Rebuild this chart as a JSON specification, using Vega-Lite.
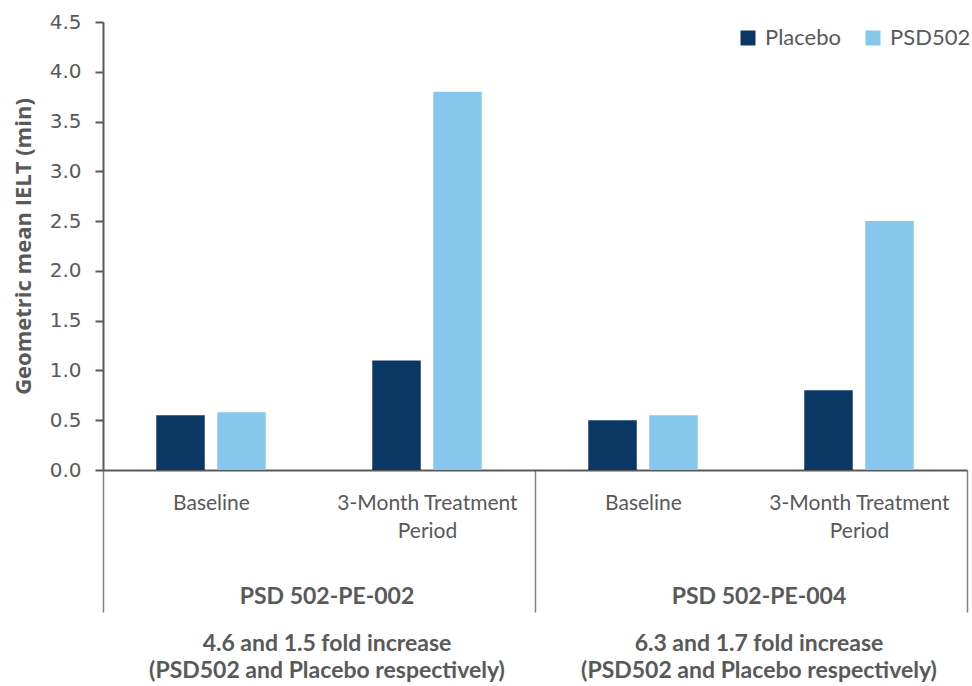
{
  "$schema": "https://vega.github.io/schema/vega-lite/v6.json",
  "width": 864,
  "height": 448,
  "autosize": {"type": "none"},
  "padding": {"left": 103, "top": 22, "right": 5, "bottom": 216},
  "background": "white",
  "config": {"view": {"stroke": null}, "font": "Lato"},
  "data": {
    "values": [
      {"study": "PSD 502-PE-002", "group": "PE-002 Baseline", "period": "Baseline", "series": "Placebo", "value": 0.55},
      {"study": "PSD 502-PE-002", "group": "PE-002 Baseline", "period": "Baseline", "series": "PSD502", "value": 0.58},
      {"study": "PSD 502-PE-002", "group": "PE-002 3-Month", "period": "3-Month Treatment Period", "series": "Placebo", "value": 1.1},
      {"study": "PSD 502-PE-002", "group": "PE-002 3-Month", "period": "3-Month Treatment Period", "series": "PSD502", "value": 3.8},
      {"study": "PSD 502-PE-004", "group": "PE-004 Baseline", "period": "Baseline", "series": "Placebo", "value": 0.5},
      {"study": "PSD 502-PE-004", "group": "PE-004 Baseline", "period": "Baseline", "series": "PSD502", "value": 0.55},
      {"study": "PSD 502-PE-004", "group": "PE-004 3-Month", "period": "3-Month Treatment Period", "series": "Placebo", "value": 0.8},
      {"study": "PSD 502-PE-004", "group": "PE-004 3-Month", "period": "3-Month Treatment Period", "series": "PSD502", "value": 2.5}
    ]
  },
  "layer": [
    {
      "mark": {"type": "bar"},
      "encoding": {
        "x": {
          "field": "group",
          "type": "nominal",
          "sort": ["PE-002 Baseline", "PE-002 3-Month", "PE-004 Baseline", "PE-004 3-Month"],
          "scale": {"paddingInner": 0, "paddingOuter": 0},
          "axis": {
            "orient": "bottom",
            "title": null,
            "tickBand": "extent",
            "tickSize": 142,
            "tickColor": "#7F7F7F",
            "tickWidth": 1.5,
            "tickOpacity": {"condition": {"test": "!isValid(datum.value) || indexof(datum.value, '3-Month') >= 0", "value": 1}, "value": 0},
            "domainColor": "#595959",
            "domainWidth": 2,
            "labelExpr": "!isValid(datum.value) || datum.label == '' ? '' : (indexof(datum.label, 'Baseline') >= 0 ? 'Baseline' : ['3-Month Treatment', 'Period'])",
            "labelAngle": 0,
            "labelFont": "Lato",
            "labelFontSize": 21,
            "labelColor": "#595959",
            "labelPadding": -120,
            "labelLineHeight": 28,
            "labelBaseline": "top",
            "labelLimit": 0
          }
        },
        "xOffset": {
          "field": "series",
          "type": "nominal",
          "sort": ["Placebo", "PSD502"],
          "scale": {"paddingInner": 0.205, "paddingOuter": 0.873}
        },
        "y": {
          "field": "value",
          "type": "quantitative",
          "scale": {"domain": [0, 4.5], "nice": false},
          "axis": {
            "title": "Geometric mean IELT (min)",
            "values": [0, 0.5, 1, 1.5, 2, 2.5, 3, 3.5, 4, 4.5],
            "format": ".1f",
            "grid": false,
            "domainColor": "#595959",
            "domainWidth": 2,
            "tickColor": "#595959",
            "tickWidth": 2,
            "tickSize": 8,
            "labelFont": "DejaVu Sans",
            "labelFontSize": 20,
            "labelColor": "#595959",
            "labelPadding": 14,
            "titleFont": "Open Sans",
            "titleFontSize": 22,
            "titleFontWeight": "bold",
            "titleColor": "#595959",
            "titlePadding": 14
          }
        },
        "color": {
          "field": "series",
          "type": "nominal",
          "scale": {"domain": ["Placebo", "PSD502"], "range": ["#0A3764", "#88C7EC"]},
          "legend": {
            "orient": "none",
            "legendX": 634,
            "legendY": 5,
            "direction": "horizontal",
            "title": null,
            "symbolType": "square",
            "symbolSize": 225,
            "symbolStrokeWidth": 0,
            "symbolOpacity": 1,
            "labelFont": "Lato",
            "labelFontSize": 22,
            "labelColor": "#595959",
            "labelOffset": 6,
            "columnPadding": 21,
            "padding": 0
          }
        }
      }
    },
    {
      "mark": {"type": "rule", "opacity": 0},
      "encoding": {
        "x": {
          "field": "study",
          "type": "nominal",
          "scale": {"type": "band", "paddingInner": 0, "paddingOuter": 0},
          "axis": {
            "orient": "bottom",
            "title": null,
            "ticks": false,
            "domain": false,
            "labelAngle": 0,
            "labelFont": "Lato",
            "labelFontWeight": "bold",
            "labelFontSize": 23,
            "labelColor": "#595959",
            "labelPadding": 115,
            "labelBaseline": "top",
            "labelLimit": 0,
            "labelOffset": 8
          }
        }
      }
    },
    {
      "mark": {"type": "rule", "opacity": 0},
      "encoding": {
        "x": {
          "field": "study",
          "type": "nominal",
          "scale": {"type": "band", "paddingInner": 0, "paddingOuter": 0},
          "axis": {
            "orient": "bottom",
            "title": null,
            "ticks": false,
            "domain": false,
            "labelAngle": 0,
            "labelFont": "Lato",
            "labelFontWeight": "bold",
            "labelFontSize": 23,
            "labelColor": "#595959",
            "labelPadding": 162,
            "labelLineHeight": 27,
            "labelBaseline": "top",
            "labelLimit": 0,
            "labelOffset": 8,
            "labelExpr": "datum.label == 'PSD 502-PE-002' ? ['4.6 and 1.5 fold increase', '(PSD502 and Placebo respectively)'] : ['6.3 and 1.7 fold increase', '(PSD502 and Placebo respectively)']"
          }
        }
      }
    }
  ],
  "resolve": {"scale": {"x": "independent"}}
}
